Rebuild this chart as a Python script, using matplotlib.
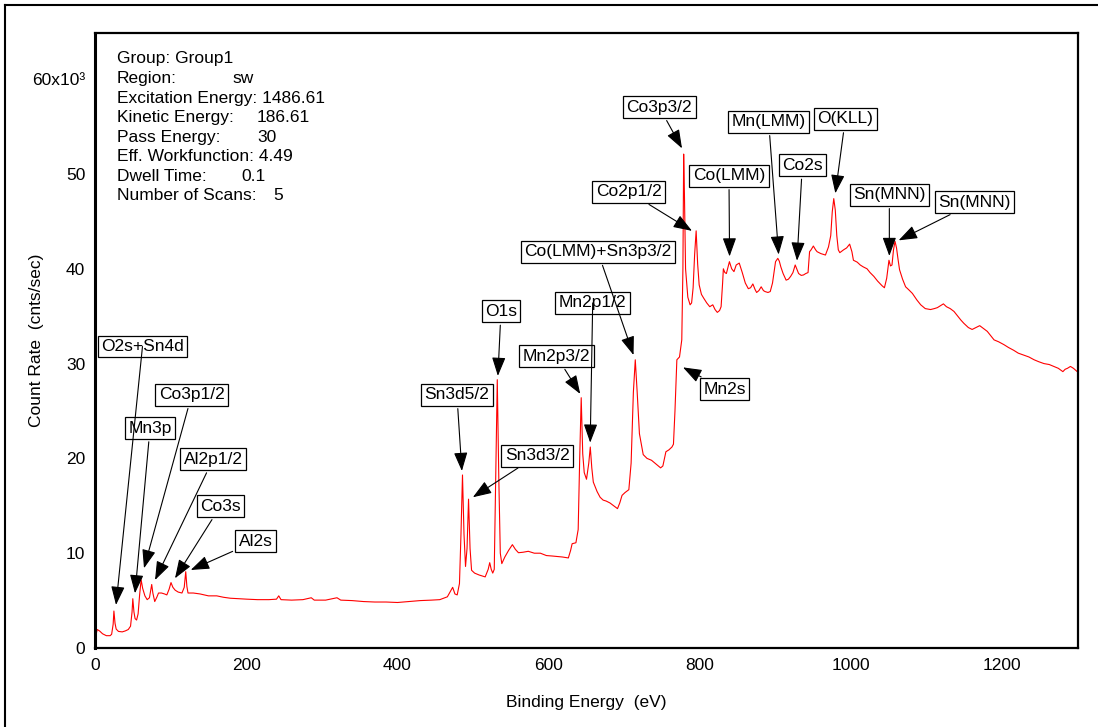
import matplotlib
matplotlib.use("Agg")
import matplotlib.pyplot as plt
from matplotlib.lines import Line2D

plt.rcParams["font.family"] = ["Liberation Sans", "DejaVu Sans"]

# XPS survey spectrum: binding energy (eV) and count rate (10^3 cnts/sec)
binding_energy = [
    0, 1, 3, 6, 10, 15, 20, 22, 24, 25, 26.5, 28, 31, 36, 40, 44, 47, 49, 50, 51.5,
    53, 55, 57, 59, 61, 63, 66, 69, 72, 74, 75, 76.5, 79, 82, 84, 88, 92, 95, 98, 100.5,
    103, 106, 110, 115, 118, 120, 121.5, 123, 130, 139, 150, 161, 170, 179, 190, 201,
    215, 230, 240, 243, 246, 260, 275, 286, 290, 305, 320, 325, 340, 355, 370, 385,
    400, 415, 430, 445, 456, 466, 473, 476, 479, 482, 484, 486, 488, 490, 492, 494,
    496, 498, 502, 508, 516, 520, 522, 524, 526, 528, 530, 532, 534, 536, 538, 542,
    547, 552, 556, 560, 566, 573, 581, 589, 597, 605, 611, 618, 626, 629, 631, 636,
    639, 641, 643, 645, 647, 650, 653, 655, 657, 659, 664, 668, 672, 676, 681, 686,
    691, 694, 697, 701, 706, 709, 712, 714.5, 717, 720, 725, 730, 736, 742, 748, 751,
    755, 759, 763, 765, 767, 769.5, 773, 776, 777.5, 778.5, 779.5, 781, 784, 787, 789,
    791, 793, 795, 797, 799, 802, 805, 809, 813, 817, 820, 823, 826, 828, 830, 831,
    833, 835, 839, 842, 845, 848, 852, 856, 860, 864, 867, 870, 873, 875, 878, 881,
    884, 886, 890, 893, 896, 900, 903, 905, 907, 910, 914, 917, 920, 923, 926, 928,
    930.5, 934, 937, 940, 943, 945, 947, 950, 953, 955, 960, 966, 970, 973, 975, 977,
    979, 981, 983, 985, 990, 994, 998, 1001, 1003, 1008, 1012, 1016, 1021, 1025, 1030,
    1035, 1041, 1044, 1047, 1050, 1052, 1054, 1056, 1058, 1060, 1062, 1064, 1068, 1072,
    1076, 1081, 1087, 1092, 1098, 1105, 1110, 1114, 1118, 1122, 1126, 1131, 1136, 1140,
    1145, 1149, 1155, 1160, 1165, 1170, 1175, 1180, 1185, 1189, 1195, 1202, 1208, 1215,
    1221, 1228, 1235, 1242, 1248, 1255, 1262, 1268, 1274, 1280, 1283, 1286, 1290, 1294,
    1299, 1300,
]
count_rate_k = [
    0.6, 1.3, 1.95, 1.8, 1.5, 1.3, 1.3, 1.45, 2.5, 3.9, 2.6, 2.0, 1.75, 1.7, 1.8, 1.95, 2.3, 3.8, 5.2, 3.8,
    3.1, 2.95, 3.6, 5.6, 7.2, 6.3, 5.5, 5.1, 5.3, 6.2, 6.7, 5.8, 4.9, 5.4, 5.8, 5.8, 5.7, 5.6, 6.2, 6.9,
    6.4, 6.1, 5.9, 5.8, 6.4, 8.05, 6.5, 5.8, 5.8, 5.7, 5.5, 5.5, 5.35, 5.25, 5.2, 5.15,
    5.1, 5.1, 5.15, 5.5, 5.1, 5.05, 5.1, 5.3, 5.05, 5.05, 5.3, 5.05, 5.0, 4.9, 4.85, 4.85,
    4.8, 4.9, 5.0, 5.05, 5.1, 5.4, 6.4, 5.7, 5.6, 6.8, 12.0, 18.25, 12.0, 8.6, 10.5, 15.7,
    10.5, 8.2, 7.9, 7.7, 7.5, 8.3, 9.0, 8.3, 7.9, 8.3, 18.0, 28.3, 18.0, 10.0, 8.9, 9.6,
    10.3, 10.9, 10.4, 10.05, 10.1, 10.2, 10.0, 10.0, 9.75, 9.7, 9.65, 9.6, 9.5, 10.3, 11.0, 11.1,
    12.5, 20.0, 26.4, 20.5, 18.5, 17.8, 19.5, 21.2, 19.0, 17.5, 16.5, 15.9, 15.6, 15.5, 15.3, 15.0,
    14.7, 15.3, 16.1, 16.4, 16.7, 19.5, 27.0, 30.4, 27.0, 22.6, 20.4, 20.0, 19.8, 19.4, 19.0, 19.2,
    20.7, 20.9, 21.2, 21.5, 25.0, 30.4, 30.7, 32.5, 40.0, 52.1, 48.0, 40.0, 37.0, 36.2, 36.4,
    38.0, 41.5, 44.0, 40.5, 38.3, 37.3, 36.9, 36.4, 36.0, 36.2, 35.7, 35.4, 35.6, 36.0, 38.5, 40.0,
    39.6, 39.5, 40.75, 40.0, 39.7, 40.4, 40.6, 39.6, 38.5, 37.9, 38.0, 38.4, 37.8, 37.5, 37.7, 38.1,
    37.7, 37.6, 37.5, 37.6, 38.5, 40.75, 41.1, 40.8, 40.2, 39.5, 38.8, 38.9, 39.2, 39.6, 40.4, 40.0,
    39.5, 39.3, 39.35, 39.5, 39.6, 41.8, 42.0, 42.4, 42.0, 41.8, 41.6, 41.45, 42.3, 43.5, 46.0, 47.4,
    46.2, 43.5, 42.0, 41.7, 42.0, 42.2, 42.6, 41.8, 40.9, 40.7, 40.4, 40.2, 40.0, 39.6, 39.2,
    38.7, 38.2, 38.0, 39.0, 40.9, 40.3, 40.4, 42.0, 42.9, 42.2, 41.0, 39.9, 38.9, 38.1,
    37.8, 37.4, 36.7, 36.2, 35.8, 35.7, 35.8, 35.9, 36.1, 36.3, 36.0, 35.8, 35.5, 35.1,
    34.6, 34.25, 33.8, 33.6, 33.8, 34.0, 33.7, 33.4, 32.9, 32.5, 32.3, 32.0, 31.7, 31.4,
    31.1, 30.9, 30.7, 30.4, 30.2, 30.0, 29.9, 29.7, 29.5, 29.15, 29.4, 29.5, 29.7, 29.5,
    29.15, 29.3,
]

# Peak labels: arrow tip (eV, 10^3 cnts/sec) and label centre (eV, 10^3 cnts/sec)
peak_labels = ["O2s+Sn4d", "Mn3p", "Co3p1/2", "Al2p1/2", "Co3s", "Al2s",
               "Sn3d5/2", "Sn3d3/2", "O1s", "Mn2p3/2", "Mn2p1/2",
               "Co(LMM)+Sn3p3/2", "Mn2s", "Co3p3/2", "Co2p1/2", "Co(LMM)",
               "Mn(LMM)", "Co2s", "O(KLL)", "Sn(MNN)", "Sn(MNN)"]
tip_energy = [27.8, 52.9, 64.8, 79.4, 105.8, 126.6, 485.2, 499.7, 532.8, 641.7, 654.9,
              712.2, 777.6, 776.3, 789.5, 839.2, 904.1, 928.4, 979.1, 1050.5, 1062.8]
tip_count = [4.54, 5.77, 8.41, 7.17, 7.35, 8.23, 18.67, 15.9, 28.7, 26.8, 21.66,
             30.9, 29.6, 52.7, 44.0, 41.3, 41.5, 40.85, 47.96, 41.35, 43.0]
label_energy = [62.8, 72.8, 127.9, 156.1, 165.8, 212.4, 478.6, 584.8, 536.9, 610.3, 658.2,
                664.9, 832.5, 746.2, 705.9, 838.4, 890.9, 935.4, 992.3, 1050.5, 1163.2]
label_count = [31.8, 23.2, 26.7, 19.9, 14.95, 11.27, 26.7, 20.3, 35.5, 30.8, 36.4,
               41.8, 27.3, 57.05, 48.1, 49.8, 55.5, 50.9, 55.8, 47.8, 47.0]
# labels whose leader line starts at the label centre and runs across the box
through_box = {"O2s+Sn4d", "Mn2p1/2"}

y_ticks = [0, 10, 20, 30, 40, 50, 60]
y_tick_labels = ["0", "10", "20", "30", "40", "50", "60x10³"]
x_ticks = [0, 200, 400, 600, 800, 1000, 1200]

info_lines = [
    ("Group: Group1", None),
    ("Region:", "sw"),
    ("Excitation Energy: 1486.61", None),
    ("Kinetic Energy:", "186.61"),
    ("Pass Energy:", "30"),
    ("Eff. Workfunction: 4.49", None),
    ("Dwell Time:", "0.1"),
    ("Number of Scans:", "5"),
]
info_value_x = {"Region:": 232, "Kinetic Energy:": 257, "Pass Energy:": 257,
                "Dwell Time:": 241, "Number of Scans:": 273}

W, H = 1098, 727
FS = 12.5
fig = plt.figure(figsize=(W / 100, H / 100), dpi=100)


def fx(x):
    return x / W


def fy(y):
    return 1 - y / H


# outer frame
fig.add_artist(Line2D([fx(5), fx(5)], [fy(5), 0], color="black", lw=1.5))
fig.add_artist(Line2D([fx(5), 1], [fy(5), fy(5)], color="black", lw=1.5))

ax = fig.add_axes([fx(95), fy(648), fx(1078) - fx(95), fy(33) - fy(648)])
ax.plot(binding_energy, count_rate_k, color="red", lw=0.8, zorder=2)
ax.set_xlim(0, 1300)
ax.set_ylim(0, 64.87)
ax.set_xticks(x_ticks)
ax.set_xticklabels([str(t) for t in x_ticks])
ax.set_yticks(y_ticks)
ax.set_yticklabels(y_tick_labels)
ax.tick_params(length=0, labelsize=FS, pad=7)
for side in ax.spines:
    ax.spines[side].set_linewidth(1.6)
ax.spines["left"].set_linewidth(2.2)
ax.set_xlabel("Binding Energy  (eV)", fontsize=FS)
ax.set_ylabel("Count Rate  (cnts/sec)", fontsize=FS)
ax.xaxis.set_label_coords(0.5, -0.0764)
ax.yaxis.set_label_coords(-0.052, 0.5)

box = dict(boxstyle="square,pad=0.2", fc="white", ec="black", lw=0.9)
ghost = dict(boxstyle="square,pad=0.2", fc="none", ec="none")
arrow_kw = dict(arrowstyle="-|>,head_length=1.15,head_width=0.42",
                mutation_scale=10, color="black", lw=0.8, shrinkB=0)

for lab, tx, ty, lx, ly in zip(peak_labels, tip_energy, tip_count, label_energy, label_count):
    ax.text(lx, ly, lab, fontsize=FS, ha="center", va="center", bbox=box, zorder=5)
for lab, tx, ty, lx, ly in zip(peak_labels, tip_energy, tip_count, label_energy, label_count):
    props = dict(arrow_kw)
    if lab in through_box:
        props.update(patchA=None, shrinkA=0)
    ax.annotate(lab, xy=(tx, ty), xytext=(lx, ly), fontsize=FS, ha="center", va="center",
                color="none", bbox=ghost, arrowprops=props, zorder=6)

# acquisition parameters
for i, (lab, val) in enumerate(info_lines):
    yb = 63.3 + 19.6 * i
    fig.text(fx(117), fy(yb), lab, fontsize=FS, ha="left", va="baseline")
    if val is not None:
        fig.text(fx(info_value_x[lab]), fy(yb), val, fontsize=FS, ha="left", va="baseline")

fig.savefig("out.png", dpi=100)
